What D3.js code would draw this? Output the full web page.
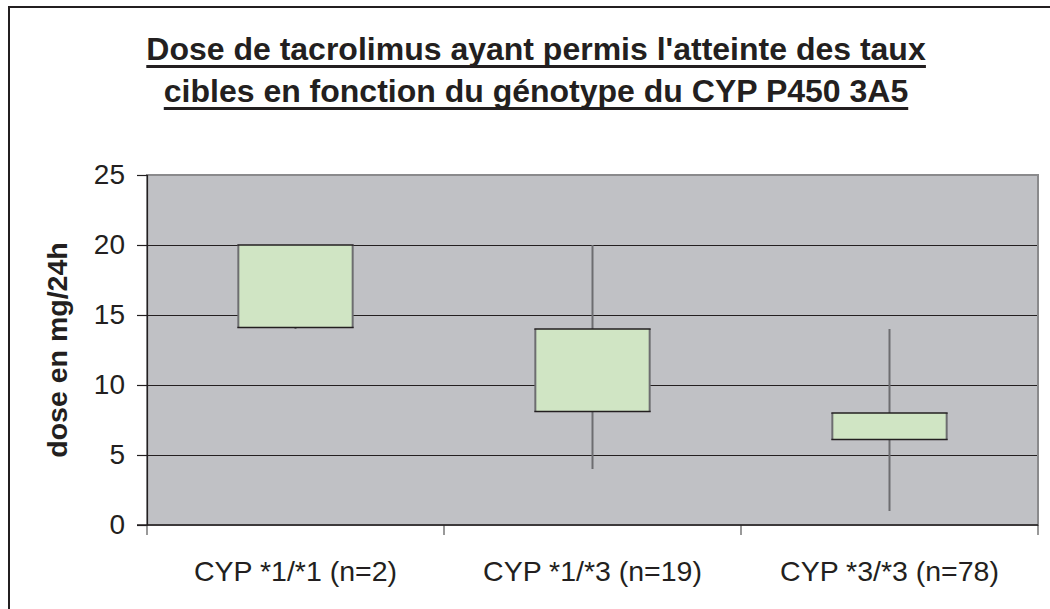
<!DOCTYPE html>
<html>
<head>
<meta charset="utf-8">
<script src="https://cdn.jsdelivr.net/npm/d3@7"></script>
<style>
    html, body { margin: 0; padding: 0; background: #fff; }
    svg { display: block; font-family: "Liberation Sans", Arial, sans-serif; }
</style>
</head>
<body>
<div id="chart"></div>
<script>
// Excel-style high/low + box chart, tacrolimus dose by CYP 3A5 genotype
const genotypes = ["CYP *1/*1 (n=2)", "CYP *1/*3 (n=19)", "CYP *3/*3 (n=78)"];
const doseLow = [14, 4, 1];
const doseBoxLow = [14.1, 8.1, 6.1];
const doseBoxHigh = [20, 14, 8];
const doseHigh = [20, 20, 14];
const yTicks = [0, 5, 10, 15, 20, 25];
const titleLines = [
    "Dose de tacrolimus ayant permis l'atteinte des taux",
    "cibles en fonction du génotype du CYP P450 3A5"
];

const data = genotypes.map((g, i) => ({
    genotype: g,
    low: doseLow[i],
    boxLow: doseBoxLow[i],
    boxHigh: doseBoxHigh[i],
    high: doseHigh[i]
}));

const width = 1050;
const height = 609;
const plot = { left: 147, right: 1038, top: 175, bottom: 525 };
const ink = "#231f20";

const svg = d3.select("#chart")
    .append("svg")
    .attr("width", width)
    .attr("height", height);

// outer frame (runs off the right and bottom edge)
svg.append("rect")
    .attr("x", 9)
    .attr("y", 7)
    .attr("width", width + 20)
    .attr("height", height + 20)
    .attr("fill", "#fff")
    .attr("stroke", ink)
    .attr("stroke-width", 2);

// title, underlined
const titleRows = svg.append("g")
    .selectAll("g")
    .data(titleLines)
    .join("g");

titleRows.append("text")
    .attr("x", 536)
    .attr("y", (_, i) => 60 + i * 42)
    .attr("text-anchor", "middle")
    .attr("font-size", 32)
    .attr("font-weight", "bold")
    .attr("fill", ink)
    .text(d => d);

titleRows.each(function (_, i) {
    const row = d3.select(this);
    const box = row.select("text").node().getBBox();
    row.append("rect")
        .attr("x", box.x)
        .attr("y", 65 + i * 42)
        .attr("width", box.width)
        .attr("height", 3)
        .attr("fill", ink);
});

const x = d3.scaleBand()
    .domain(genotypes)
    .range([plot.left, plot.right]);

const y = d3.scaleLinear()
    .domain([0, 25])
    .range([plot.bottom, plot.top]);

svg.append("rect")
    .attr("x", plot.left)
    .attr("y", plot.top)
    .attr("width", plot.right - plot.left)
    .attr("height", plot.bottom - plot.top)
    .attr("fill", "#c0c1c5")
    .attr("stroke", "#8a8a8c")
    .attr("stroke-width", 2);

// gridlines + y axis
const yAxis = d3.axisLeft(y)
    .tickValues(yTicks)
    .tickSize(10)
    .tickPadding(12);

const yAxisG = svg.append("g")
    .attr("transform", `translate(${plot.left},0)`)
    .call(yAxis);

yAxisG.select(".domain").attr("stroke", ink).attr("stroke-width", 1.2);
yAxisG.selectAll(".tick line").attr("stroke", ink).attr("stroke-width", 1.2);
yAxisG.selectAll(".tick text")
    .attr("font-family", "Liberation Sans, Arial, sans-serif")
    .attr("font-size", 28)
    .attr("fill", ink);

svg.append("g")
    .selectAll("line")
    .data(yTicks.filter(t => t > 0 && t < 25))
    .join("line")
    .attr("x1", plot.left)
    .attr("x2", plot.right - 1)
    .attr("y1", d => Math.round(y(d)) + 0.5)
    .attr("y2", d => Math.round(y(d)) + 0.5)
    .attr("stroke", ink)
    .attr("stroke-width", 1.2);

// x axis: labels centred, ticks at category boundaries
const xAxisG = svg.append("g")
    .attr("transform", `translate(0,${plot.bottom})`)
    .call(d3.axisBottom(x).tickSize(0).tickPadding(36));

xAxisG.select(".domain").remove();
xAxisG.selectAll(".tick text")
    .attr("font-family", "Liberation Sans, Arial, sans-serif")
    .attr("font-size", 28.5)
    .attr("fill", ink);

const boundaries = genotypes.map(g => x(g)).concat([x.range()[1]]);

svg.append("g")
    .selectAll("line")
    .data(boundaries)
    .join("line")
    .attr("x1", d => d)
    .attr("x2", d => d)
    .attr("y1", plot.bottom)
    .attr("y2", plot.bottom + 10)
    .attr("stroke", "#555")
    .attr("stroke-width", 1.2);

svg.append("line")
    .attr("x1", plot.left - 10)
    .attr("x2", plot.right)
    .attr("y1", plot.bottom)
    .attr("y2", plot.bottom)
    .attr("stroke", ink)
    .attr("stroke-width", 1.4);

// y axis title
svg.append("text")
    .attr("transform", `translate(67,${(plot.top + plot.bottom) / 2}) rotate(-90)`)
    .attr("text-anchor", "middle")
    .attr("font-size", 28.5)
    .attr("font-weight", "bold")
    .attr("fill", ink)
    .text("dose en mg/24h");

// high-low lines and boxes
const boxWidth = x.bandwidth() * 0.385;
const marks = svg.append("g")
    .selectAll("g")
    .data(data)
    .join("g");

marks.append("line")
    .attr("x1", d => x(d.genotype) + x.bandwidth() / 2)
    .attr("x2", d => x(d.genotype) + x.bandwidth() / 2)
    .attr("y1", d => y(d.low))
    .attr("y2", d => y(d.high))
    .attr("stroke", "#6d6d70")
    .attr("stroke-width", 2);

marks.append("rect")
    .attr("x", d => x(d.genotype) + (x.bandwidth() - boxWidth) / 2)
    .attr("y", d => y(d.boxHigh))
    .attr("width", boxWidth)
    .attr("height", d => y(d.boxLow) - y(d.boxHigh))
    .attr("fill", "#d0e5c4")
    .attr("stroke", "none");

marks.each(function (d) {
    const g = d3.select(this);
    const x0 = x(d.genotype) + (x.bandwidth() - boxWidth) / 2;
    const x1 = x0 + boxWidth;
    [x0, x1].forEach(xx => g.append("line")
        .attr("x1", xx).attr("x2", xx)
        .attr("y1", y(d.boxHigh)).attr("y2", y(d.boxLow))
        .attr("stroke", "#6d6d70").attr("stroke-width", 2));
    [d.boxHigh, d.boxLow].forEach(v => g.append("line")
        .attr("x1", x0 - 1).attr("x2", x1 + 1)
        .attr("y1", y(v)).attr("y2", y(v))
        .attr("stroke", ink).attr("stroke-width", 1.5));
});
</script>
</body>
</html>
